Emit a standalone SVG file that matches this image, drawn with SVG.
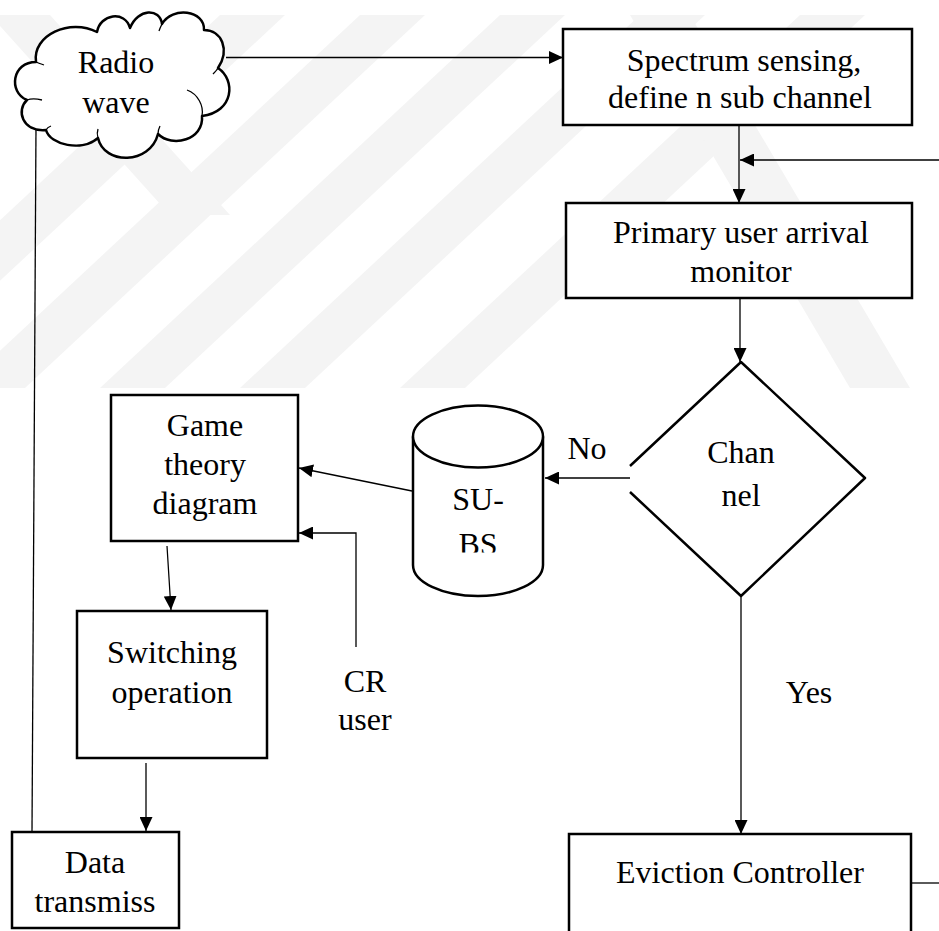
<svg xmlns="http://www.w3.org/2000/svg" width="939" height="931" viewBox="0 0 939 931">
  <style>
    .box { fill: #ffffff; stroke: #000000; stroke-width: 2.5; }
    .shape { fill: #ffffff; stroke: #000000; stroke-width: 2.5; stroke-linejoin: round; }
    .edge { fill: none; stroke: #000000; stroke-width: 1.3; }
    .lbl { font-family: "Liberation Serif", "Times New Roman", serif; font-size: 32px; fill: #000000; text-anchor: middle; }
    .wm { fill: #f4f4f4; }
  </style>
  <defs>
    <marker id="arrow" viewBox="0 0 14 13" refX="14" refY="6.5" markerWidth="14" markerHeight="13" markerUnits="userSpaceOnUse" orient="auto">
      <path d="M0,0 L14,6.5 L0,13 Z" fill="#000000"/>
    </marker>
    <clipPath id="wmClip">
      <rect x="0" y="15" width="939" height="373"/>
    </clipPath>
    <clipPath id="bsClip">
      <rect x="400" y="400" width="160" height="152.5"/>
    </clipPath>
  </defs>

  <rect width="939" height="931" fill="#ffffff"/>

  <!-- faint background stripes -->
  <g id="background-stripes" class="wm" clip-path="url(#wmClip)">
    <polygon points="-180,388 -115,388 285,15 220,15"/>
    <polygon points="-40,388 25,388 425,15 360,15"/>
    <polygon points="100,388 165,388 565,15 500,15"/>
    <polygon points="240,388 305,388 705,15 640,15"/>
    <polygon points="400,388 465,388 865,15 800,15"/>
    <polygon points="-10,15 50,15 230,215 170,215"/>
    <polygon points="630,15 690,15 910,388 850,388"/>
  </g>

  <!-- connectors -->
  <g id="connectors" class="edge">
    <path d="M226,57.5 H563" marker-end="url(#arrow)"/>
    <path d="M739,125 V203" marker-end="url(#arrow)"/>
    <path d="M939,160 H740" marker-end="url(#arrow)"/>
    <path d="M740,298 V362" marker-end="url(#arrow)"/>
    <path d="M641,478 H545" marker-end="url(#arrow)"/>
    <path d="M412,491 L299,468" marker-end="url(#arrow)"/>
    <path d="M356,647 V533 H299" marker-end="url(#arrow)"/>
    <path d="M167,546 L171,610" marker-end="url(#arrow)"/>
    <path d="M146,763 V831" marker-end="url(#arrow)"/>
    <path d="M32,832 L36,126"/>
    <path d="M741,596 V834" marker-end="url(#arrow)"/>
    <path d="M911,883 H939"/>
  </g>

  <!-- Radio wave cloud -->
  <g id="radio-wave">
    <path class="shape" d="M36,62 C32,35 70,18 97,32 C100,14 125,10 130,28 C138,8 160,8 162,24 C172,6 205,10 204,30 C222,30 230,50 218,68 C236,80 234,112 202,116 C204,140 172,148 158,134 C150,165 104,165 98,138 C82,152 50,145 46,130 C22,132 16,110 27,100 C8,92 12,62 36,62 Z"/>
    <path class="edge" stroke-width="2" d="M27,100 C32,98 38,99 42,100 M46,130 C47,128 48,127 51,126 M98,138 C97,135 97,132 98,129 M158,134 C158,131 159,128 160,126 M187,90 C198,94 204,106 202,116 M218,68 C217,70 215,72 213,74 M36,62 C38,63 41,64 44,65 M162,24 C161,26 160,28 159,31"/>
    <text class="lbl" x="116" y="73">Radio</text>
    <text class="lbl" x="116" y="113">wave</text>
  </g>

  <!-- Spectrum sensing -->
  <g id="spectrum-sensing">
    <rect class="box" x="563" y="29" width="349" height="96"/>
    <text class="lbl" x="744" y="71">Spectrum sensing,</text>
    <text class="lbl" x="740" y="108">define n sub channel</text>
  </g>

  <!-- Primary user arrival monitor -->
  <g id="primary-user-monitor">
    <rect class="box" x="566" y="203" width="346" height="95"/>
    <text class="lbl" x="741" y="243">Primary user arrival</text>
    <text class="lbl" x="741" y="282">monitor</text>
  </g>

  <!-- Channel decision -->
  <g id="channel-decision">
    <path class="shape" fill="none" d="M630,466 L741,362 L865,478 L741,596 L630,492"/>
    <text class="lbl" x="741" y="463">Chan</text>
    <text class="lbl" x="741" y="506">nel</text>
    <text class="lbl" x="587" y="459">No</text>
  </g>

  <!-- SU-BS store -->
  <g id="su-bs">
    <path class="shape" d="M413,436.5 V565 A65,31 0 0 0 543,565 V436.5"/>
    <ellipse class="shape" cx="478" cy="436.5" rx="65" ry="31"/>
    <text class="lbl" x="478" y="510">SU-</text>
    <text class="lbl" x="478" y="555" clip-path="url(#bsClip)">BS</text>
  </g>

  <!-- Game theory diagram -->
  <g id="game-theory">
    <rect class="box" x="111" y="395" width="187" height="146"/>
    <text class="lbl" x="205" y="436">Game</text>
    <text class="lbl" x="205" y="475">theory</text>
    <text class="lbl" x="205" y="514">diagram</text>
  </g>

  <!-- CR user -->
  <g id="cr-user">
    <text class="lbl" x="365" y="692">CR</text>
    <text class="lbl" x="365" y="730">user</text>
  </g>

  <!-- Switching operation -->
  <g id="switching">
    <rect class="box" x="77" y="611" width="190" height="147"/>
    <text class="lbl" x="172" y="663">Switching</text>
    <text class="lbl" x="172" y="703">operation</text>
  </g>

  <!-- Data transmission -->
  <g id="data-transmission">
    <rect class="box" x="12" y="832" width="167" height="96"/>
    <text class="lbl" x="95" y="873">Data</text>
    <text class="lbl" x="95" y="912">transmiss</text>
  </g>

  <!-- Eviction Controller -->
  <g id="eviction-controller">
    <rect class="box" x="569" y="834" width="342" height="120"/>
    <text class="lbl" x="740" y="883">Eviction Controller</text>
  </g>

  <!-- Yes label -->
  <g id="yes-label">
    <text class="lbl" x="809" y="703">Yes</text>
  </g>
</svg>
